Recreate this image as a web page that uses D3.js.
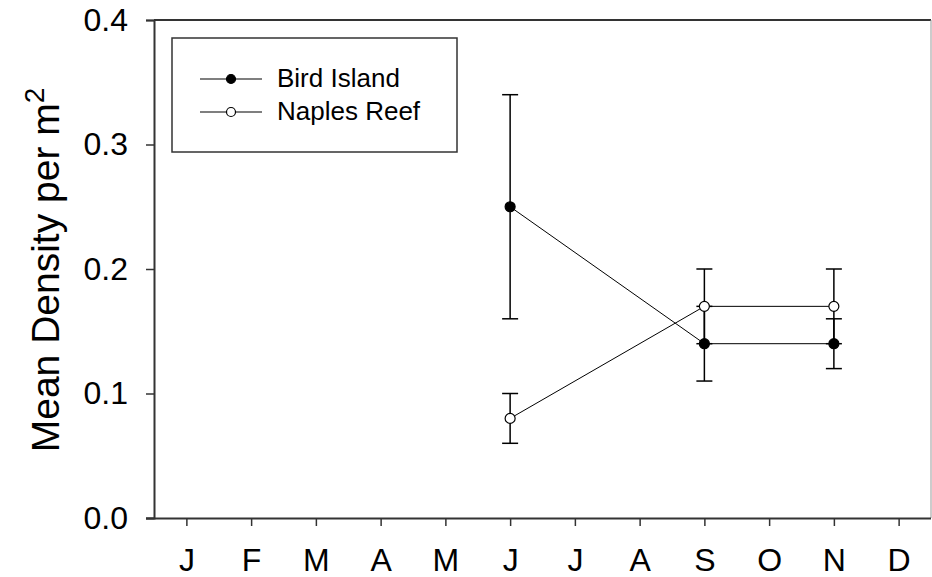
<!DOCTYPE html>
<html><head><meta charset="utf-8">
<script src="https://cdn.jsdelivr.net/npm/d3@7"></script>
<style>body{margin:0;background:#fff}svg{display:block;font-family:"Liberation Sans",Arial,sans-serif}</style>
</head><body><svg id="c" width="932" height="577"></svg>
<script>
const months = ["J","F","M","A","M","J","J","A","S","O","N","D"];
const yTicks = [0.0, 0.1, 0.2, 0.3, 0.4];
const sampleMonths = [6, 9, 11];
const birdMean = [0.25, 0.14, 0.14];
const birdErr = [0.09, 0.03, 0.02];
const naplesMean = [0.08, 0.17, 0.17];
const naplesErr = [0.02, 0.03, 0.03];
const seriesNames = ["Bird Island", "Naples Reef"];

const svg = d3.select("#c");
const x = d3.scaleLinear().domain([0.5, 12.5]).range([154, 931]);
const y = d3.scaleLinear().domain([0, 0.4]).range([518, 20]);

// frame top/right
svg.append("line").attr("x1",154).attr("x2",931).attr("y1",20).attr("y2",20).attr("stroke","#333").attr("stroke-width",2);
svg.append("line").attr("x1",931).attr("x2",931).attr("y1",20).attr("y2",518).attr("stroke","#999").attr("stroke-width",1);

// y axis
const ya = svg.append("g").attr("transform","translate(154,0)")
  .call(d3.axisLeft(y).tickValues(yTicks).tickFormat(d3.format(".1f")).tickSize(8).tickPadding(18));
ya.select(".domain").attr("stroke","#333").attr("stroke-width",2);
ya.selectAll(".tick line").attr("stroke","#333").attr("stroke-width",1.5);
ya.selectAll("text").attr("font-size",32).attr("fill","#000").attr("font-family","Liberation Sans, Arial, sans-serif");

// x axis
const xa = svg.append("g").attr("transform","translate(0,518)")
  .call(d3.axisBottom(x).tickValues(d3.range(1,13)).tickFormat(d => months[d-1]).tickSize(8).tickSizeOuter(0).tickPadding(22));
xa.select(".domain").attr("stroke","#333").attr("stroke-width",2).attr("d","M146,0.5H931");
xa.selectAll(".tick line").attr("stroke","#333").attr("stroke-width",1.5);
xa.selectAll("text").attr("font-size",32).attr("fill","#000").attr("font-family","Liberation Sans, Arial, sans-serif");

// y title
const t = svg.append("text").attr("transform","translate(59,270) rotate(-90)").attr("text-anchor","middle")
  .attr("font-size",39).attr("fill","#000");
t.append("tspan").text("Mean Density per m");
t.append("tspan").text("2").attr("font-size",28).attr("dy",-15);

const series = [
  {name: seriesNames[0], mean: birdMean, err: birdErr, fill: "#000"},
  {name: seriesNames[1], mean: naplesMean, err: naplesErr, fill: "#fff"}
];

const line = d3.line().x(d => x(d.m)).y(d => y(d.v));
series.forEach(s => {
  const pts = sampleMonths.map((m,i) => ({m, v: s.mean[i], e: s.err[i]}));
  const g = svg.append("g");
  pts.forEach(p => {
    g.append("line").attr("x1",x(p.m)).attr("x2",x(p.m)).attr("y1",y(p.v-p.e)).attr("y2",y(p.v+p.e)).attr("stroke","#000").attr("stroke-width",1.5);
    [p.v-p.e, p.v+p.e].forEach(v => g.append("line").attr("x1",x(p.m)-8).attr("x2",x(p.m)+8).attr("y1",y(v)).attr("y2",y(v)).attr("stroke","#000").attr("stroke-width",1.5));
  });
  s.pts = pts;
});
series.forEach(s => {
  svg.append("path").attr("d", line(s.pts)).attr("fill","none").attr("stroke","#000").attr("stroke-width",1);
});
series.forEach(s => {
  svg.append("g").selectAll("circle").data(s.pts).join("circle")
    .attr("cx", d => x(d.m)).attr("cy", d => y(d.v)).attr("r",5)
    .attr("fill", s.fill).attr("stroke","#000").attr("stroke-width",1.2);
});

// legend
const lg = svg.append("g");
lg.append("rect").attr("x",172).attr("y",38).attr("width",285).attr("height",114).attr("fill","#fff").attr("stroke","#333").attr("stroke-width",1.5);
series.forEach((s,i) => {
  const yy = 79 + i*33;
  lg.append("line").attr("x1",200).attr("x2",262).attr("y1",yy).attr("y2",yy).attr("stroke","#000").attr("stroke-width",1.2);
  lg.append("circle").attr("cx",231).attr("cy",yy).attr("r",4.5).attr("fill",s.fill).attr("stroke","#000").attr("stroke-width",1.2);
  lg.append("text").attr("x",277).attr("y",yy+8).attr("font-size",26).attr("fill","#000").text(s.name);
});
</script></body></html>
